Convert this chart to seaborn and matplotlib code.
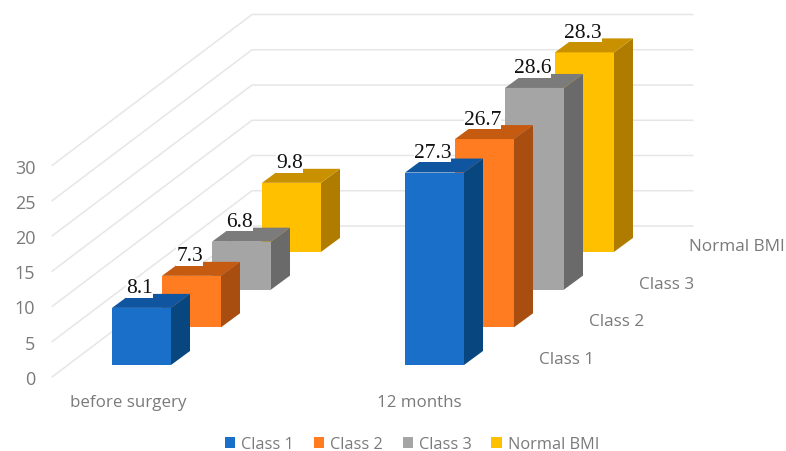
import pandas as pd
import seaborn as sns
import matplotlib.pyplot as plt
from matplotlib.patches import Polygon

# values
times = ['before surgery', '12 months']
series = ['Class 1', 'Class 2', 'Class 3', 'Normal BMI']
class1 = [8.1, 27.3]
class2 = [7.3, 26.7]
class3 = [6.8, 28.6]
normal = [9.8, 28.3]
yticks = [0, 5, 10, 15, 20, 25, 30]

front = ['#1A70C8', '#FF7C20', '#A5A5A5', '#FFC000']
side = ['#07467F', '#A84E10', '#6A6A6A', '#B07C00']
top = ['#0F559F', '#C55A11', '#7B7B7B', '#C99100']
label_color = '#7A7A7A'

sns.set_theme(style='white')
plt.rcParams['font.family'] = ['Open Sans', 'DejaVu Sans']

W, H = 786, 452
# pixels per data unit
px_x = 293
px_y = 7.05

rows = []
for name, vals in zip(series, [class1, class2, class3, normal]):
    for t, v in zip(times, vals):
        rows.append({'time': t, 'series': name, 'value': v})
df = pd.DataFrame(rows)

fig = plt.figure(figsize=(W / 100, H / 100), dpi=100)
ax = fig.add_axes([52 / W, (H - 378) / H, 641 / W, 30 * px_y / H])

sns.barplot(data=df, x='time', y='value', hue='series', hue_order=series,
            order=times, palette=front, dodge=False, width=59 / px_x,
            saturation=1, linewidth=0, ax=ax)

x0 = (52 - 141.5) / px_x
x1 = (693 - 141.5) / px_x
ax.set_xlim(x0, x1)
ax.set_ylim(0, 30)
sns.despine(ax=ax, left=True, bottom=True)

# oblique depth, in data units
wall_dx = 200 / px_x
wall_dy = 151 / px_y
step_dx = 50 / px_x
step_dy = 37.7 / px_y
base = 12 / px_y
bar_dx = 19 / px_x
bar_dy = 14 / px_y

# walls
for v in yticks:
    ax.plot([x0, x0 + wall_dx, x1], [v, v + wall_dy, v + wall_dy],
            color='#E6E6E6', lw=1.1, clip_on=False, zorder=1)

# bars: seaborn draws the fronts, they get pushed back along the floor
for i, bars in enumerate(ax.containers):
    z = 10 - i
    for p in bars:
        p.set_x(p.get_x() + i * step_dx)
        p.set_y(base + i * step_dy)
        p.set_clip_on(False)
        p.set_zorder(z)
        l = p.get_x()
        r = l + p.get_width()
        b = p.get_y()
        t = b + p.get_height()
        ax.add_patch(Polygon([(r, b), (r + bar_dx, b + bar_dy), (r + bar_dx, t + bar_dy), (r, t)],
                             facecolor=side[i], lw=0, clip_on=False, zorder=z))
        ax.add_patch(Polygon([(l, t), (r, t), (r + bar_dx, t + bar_dy), (l + bar_dx, t + bar_dy)],
                             facecolor=top[i], lw=0, clip_on=False, zorder=z))
        ax.text(l + p.get_width() / 2 - 2 / px_x, t + 20 / px_y, f'{p.get_height():.1f}',
                family='Liberation Serif', fontsize=15.5, color='#111111',
                ha='center', va='center', zorder=20, clip_on=False,
                bbox=dict(facecolor='white', edgecolor='none', pad=0.2))

# series names along the depth axis
for i, name in enumerate(series):
    ax.text(1.357 + i * step_dx, 2.55 + i * step_dy, name, color=label_color,
            fontsize=12.3, ha='left', va='center', clip_on=False)

ax.set_xlabel('')
ax.set_ylabel('')
ax.set_yticks(yticks)
ax.set_xticks([-0.046, 0.947], times)
ax.tick_params(axis='y', length=0, pad=12, labelsize=13, labelcolor=label_color)
ax.tick_params(axis='x', length=0, pad=12, labelsize=12.2, labelcolor=label_color)

sns.move_legend(ax, 'center', bbox_to_anchor=(412 / W, 7 / H), bbox_transform=fig.transFigure,
                ncol=4, title=None, frameon=False, fontsize=11.8, handlelength=0.65,
                handleheight=0.65, handletextpad=0.35, columnspacing=1.2,
                labelcolor=label_color)

fig.savefig('out.png', dpi=100)
